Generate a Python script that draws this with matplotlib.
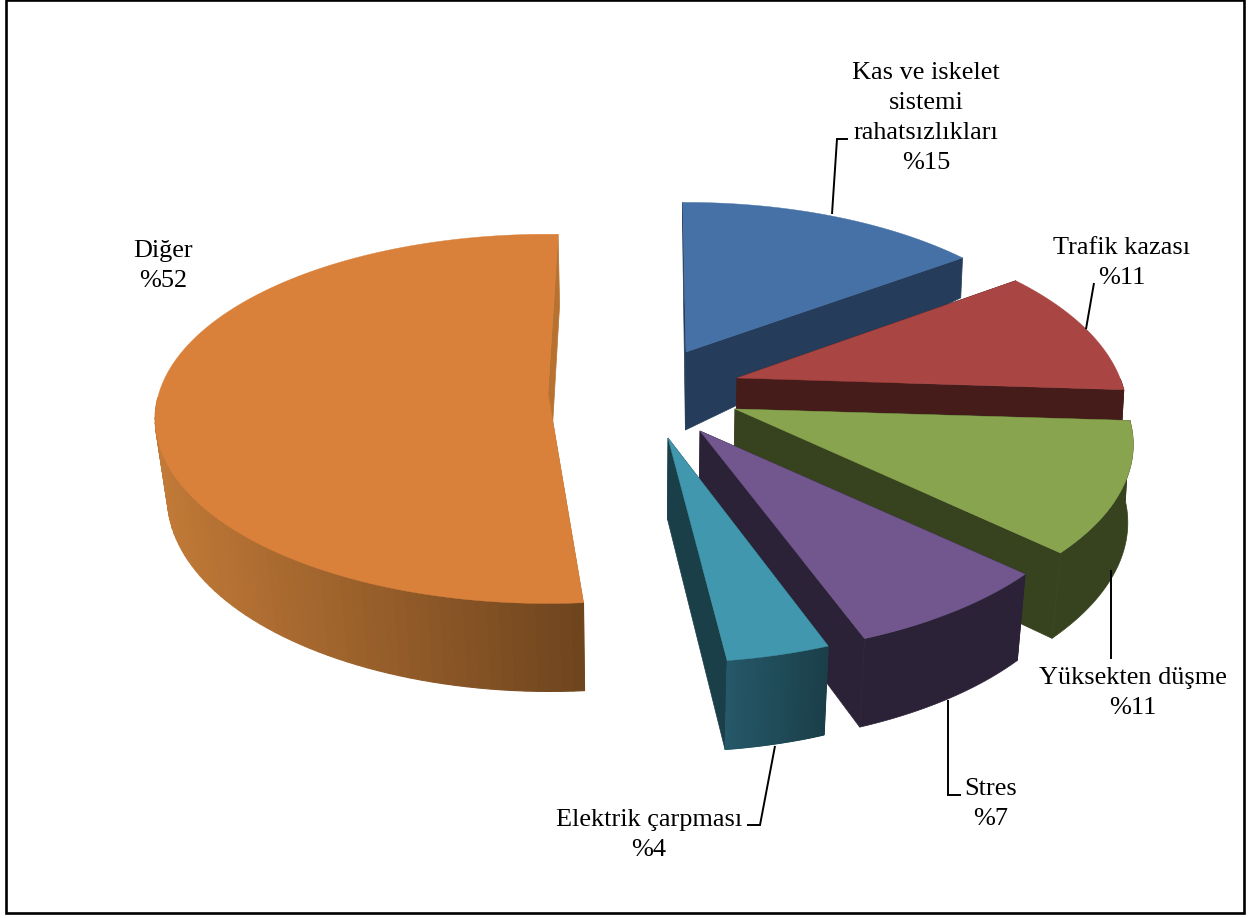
import numpy as np
import matplotlib
matplotlib.use("Agg")
import matplotlib.pyplot as plt
from matplotlib.colors import to_rgb
from matplotlib.patches import Polygon, Rectangle

# chart data
categories = ["Kas ve iskelet\nsistemi\nrahatsızlıkları", "Trafik kazası", "Yüksekten düşme",
              "Stres", "Elektrik çarpması", "Diğer"]
values = [15, 11, 11, 7, 4, 52]

# style of each slice
top_colors = ["#4571A6", "#A94543", "#89A44E", "#71578E", "#4197AE", "#D9803A"]
side_colors = ["#253C5A", "#451C1A", "#37421F", "#2C2238", "#1A3F49", "#B8722F"]

# layout in pixels, the picture is a tilted pie seen in perspective
apex_x = [686, 737, 735, 700, 668, 548]
apex_y = [352, 378, 409, 431, 438, 393]
radius_x = [380, 383, 391, 388, 383, 389]
radius_y = [178, 184, 181, 182, 182, 181]
persp = [0.19, 0.19, 0.19, 0.19, 0.19, 0.14]
start_adj = [-0.6, 0, 0, 0, 1.5, 2.7]
end_adj = [0, 0, 0.5, 1.2, 0, 1.7]
draw_order = [0, 5, 1, 2, 3, 4]

label_x = [926, 1122, 1133, 991, 649, 163]
label_y = [118, 263, 693, 804, 835, 266]
leaders = [
    [(832, 214), (837, 139), (848, 139)],
    [(1086, 329), (1094, 283)],
    [(1111, 570), (1111, 659)],
    [(948, 700), (948, 795), (961, 795)],
    [(775, 746), (760, 825), (747, 825)],
]


def extrude(i, xs, ys):
    # depth grows towards the viewer and leans to the vanishing point
    if i == 5:
        depth = np.interp(ys, [234, 604], [71, 88])
        dx = (620 - xs) * 0.03 * depth / 90
    else:
        depth = np.interp(ys, [200, 258, 352, 650], [18, 40, 78, 89])
        dx = (620 - xs) * 0.02 * depth / 90 * np.interp(ys, [250, 420, 550], [0.6, 0.5, 1])
    return xs + dx, ys + depth


def arc_points(i, t0, t1):
    t = np.radians(np.linspace(t0, t1, 121))
    s = 1 / (1 + persp[i] * np.cos(t))
    return apex_x[i] + radius_x[i] * np.sin(t) * s, apex_y[i] - radius_y[i] * np.cos(t) * s


def side_color(i, x):
    # only the last two slices have a shaded rim
    if i == 5:
        f = np.clip((x - 165) / 420, 0, 1)
        return tuple((1 - f) * a + f * b for a, b in zip(to_rgb("#C27A37"), to_rgb("#6E441E")))
    f = np.clip((x - 722) / 105, 0, 1)
    return tuple((1 - f) * a + f * b for a, b in zip(to_rgb("#26596A"), to_rgb("#1A3E48")))


fig = plt.figure(figsize=(12.59, 9.18), dpi=100)
ax = fig.add_axes([0, 0, 1, 1])
ax.set_xlim(0, 1259)
ax.set_ylim(918, 0)
ax.axis("off")
ax.add_patch(Rectangle((6, 0), 1238, 913, fill=False, edgecolor="black", linewidth=1.9))

angles = np.cumsum([0] + values) * 3.6
for i in draw_order:
    xs, ys = arc_points(i, angles[i] + start_adj[i], angles[i + 1] + end_adj[i])
    bx, by = extrude(i, xs, ys)
    ax0, ay0 = apex_x[i], apex_y[i]
    abx, aby = extrude(i, np.array([ax0], float), np.array([ay0], float))
    # radial walls first, the rim over them, then the top face
    for k in (0, -1):
        wall = [(ax0, ay0), (xs[k], ys[k]), (bx[k], by[k]), (abx[0], aby[0])]
        ax.add_patch(Polygon(wall, facecolor=side_colors[i], edgecolor=side_colors[i], linewidth=0.5))
    # the back half of the rim is never seen
    front = ys >= ay0
    fx, fy, gx, gy = xs[front], ys[front], bx[front], by[front]
    if i >= 4:
        for k in range(len(fx) - 1):
            c = side_color(i, (gx[k] + gx[k + 1]) / 2)
            strip = [(fx[k], fy[k]), (fx[k + 1], fy[k + 1]), (gx[k + 1], gy[k + 1]), (gx[k], gy[k])]
            ax.add_patch(Polygon(strip, facecolor=c, edgecolor=c, linewidth=0.8))
    elif len(fx) > 1:
        rim = np.column_stack([np.r_[fx, gx[::-1]], np.r_[fy, gy[::-1]]])
        ax.add_patch(Polygon(rim, facecolor=side_colors[i], edgecolor=side_colors[i], linewidth=0.5))
    top = np.column_stack([np.r_[ax0, xs], np.r_[ay0, ys]])
    ax.add_patch(Polygon(top, facecolor=top_colors[i], edgecolor=top_colors[i], linewidth=0.3))

for pts in leaders:
    ax.plot([p[0] for p in pts], [p[1] for p in pts], color="black", linewidth=1.4,
            solid_joinstyle="miter", solid_capstyle="butt")

for i in range(len(values)):
    ax.text(label_x[i], label_y[i], f"{categories[i]}\n%{values[i]}", ha="center", va="center",
            family="Liberation Serif", fontsize=18.9, color="black", linespacing=1.48,
            multialignment="center")

fig.savefig("out.png", dpi=100)
